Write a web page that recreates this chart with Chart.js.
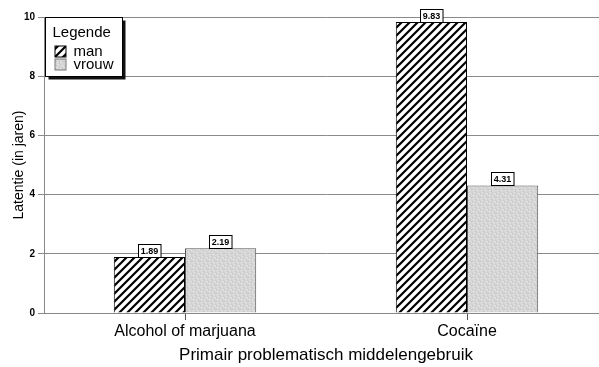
<!DOCTYPE html>
<html>
<head>
<meta charset="utf-8">
<script src="https://cdn.jsdelivr.net/npm/chart.js@4.4.1/dist/chart.umd.min.js"></script>
<style>
  body { margin: 0; background: #fff; overflow: hidden; }
  #wrap { width: 620px; height: 367px; }
</style>
</head>
<body>
<div id="wrap"><canvas id="myChart" width="620" height="367"></canvas></div>
<script>
const categories = ['Alcohol of marjuana', 'Cocaïne']
const manValues = [1.89, 9.83]
const vrouwValues = [2.19, 4.31]
const seriesNames = ['man', 'vrouw']
const yTicks = [0, 2, 4, 6, 8, 10]

const FONT = '"Liberation Sans", Arial, sans-serif'

// diagonal hatch for "man"
function hatchPattern() {
  const s = 8
  const c = document.createElement('canvas')
  c.width = s; c.height = s
  const g = c.getContext('2d')
  g.fillStyle = '#fff'
  g.fillRect(0, 0, s, s)
  g.strokeStyle = '#000'
  g.lineWidth = 2.2
  g.beginPath()
  g.moveTo(0, s); g.lineTo(s, 0)
  g.moveTo(-2, 2); g.lineTo(2, -2)
  g.moveTo(s - 2, s + 2); g.lineTo(s + 2, s - 2)
  g.stroke()
  return g.createPattern(c, 'repeat')
}

// light grey stipple for "vrouw"
function stipplePattern() {
  const dots = [
    '..x.#...',
    '#....x..',
    '...#...x',
    '.x....#.',
    '....x...',
    '#..#...#',
    '.x...x..',
    '...#....'
  ]
  const c = document.createElement('canvas')
  c.width = 8; c.height = 8
  const g = c.getContext('2d')
  g.fillStyle = '#d6d6d6'
  g.fillRect(0, 0, 8, 8)
  dots.forEach(function (row, y) {
    row.split('').forEach(function (ch, x) {
      if (ch === '#') { g.fillStyle = '#c4c4c4'; g.fillRect(x, y, 1, 1) }
      if (ch === 'x') { g.fillStyle = '#e6e6e6'; g.fillRect(x, y, 1, 1) }
    })
  })
  return g.createPattern(c, 'repeat')
}

const manFill = hatchPattern()
const vrouwFill = stipplePattern()

// small boxed value above every bar
const valueBoxes = {
  id: 'valueBoxes',
  afterDatasetsDraw(chart) {
    const ctx = chart.ctx
    ctx.save()
    ctx.font = 'bold 9px ' + FONT
    ctx.textAlign = 'center'
    ctx.textBaseline = 'middle'
    chart.data.datasets.forEach(function (ds, i) {
      chart.getDatasetMeta(i).data.forEach(function (bar, j) {
        const txt = ds.data[j].toFixed(2)
        const w = ctx.measureText(txt).width + 5
        const h = 13
        const x = Math.round(bar.x - w / 2) + 0.5
        const y = Math.round(bar.y - h) + 0.5
        ctx.fillStyle = '#fff'
        ctx.fillRect(x, y, w, h)
        ctx.strokeStyle = '#000'
        ctx.lineWidth = 1
        ctx.strokeRect(x, y, w, h)
        ctx.fillStyle = '#000'
        ctx.fillText(txt, bar.x, y + h / 2 + 0.5)
      })
    })
    ctx.restore()
  }
}

// boxed legend with drop shadow in the top-left corner of the plot
const legendBox = {
  id: 'legendBox',
  afterDraw(chart) {
    const ctx = chart.ctx
    const a = chart.chartArea
    const x = a.left + 1.5, y = a.top + 0.5, w = 77, h = 59
    ctx.save()
    ctx.fillStyle = '#111'
    ctx.fillRect(x + 3, y + 3, w, h)
    ctx.fillStyle = '#fff'
    ctx.fillRect(x, y, w, h)
    ctx.strokeStyle = '#000'
    ctx.lineWidth = 1
    ctx.strokeRect(x, y, w, h)
    ctx.fillStyle = '#000'
    ctx.textBaseline = 'middle'
    ctx.font = '15px ' + FONT
    ctx.fillText('Legende', x + 7, y + 15)
    const fills = [manFill, vrouwFill]
    const borders = ['#000', '#777']
    seriesNames.forEach(function (name, i) {
      const ry = y + 34 + i * 13
      ctx.fillStyle = fills[i]
      ctx.fillRect(x + 9.5, ry - 5.5, 11, 11)
      ctx.strokeStyle = borders[i]
      ctx.strokeRect(x + 9.5, ry - 5.5, 11, 11)
      ctx.fillStyle = '#000'
      ctx.font = '15px ' + FONT
      ctx.fillText(name, x + 28, ry)
    })
    ctx.restore()
  }
}

const data = {
  labels: categories,
  datasets: [{
    label: seriesNames[0],
    data: manValues,
    backgroundColor: manFill,
    borderColor: '#000',
    borderWidth: 1
  }, {
    label: seriesNames[1],
    data: vrouwValues,
    backgroundColor: vrouwFill,
    borderColor: '#555',
    borderWidth: 1
  }]
}

const config = {
  type: 'bar',
  data: data,
  options: {
    responsive: false,
    animation: false,
    layout: { padding: { left: 0, top: 17, right: 12, bottom: 0 } },
    datasets: {
      bar: { barPercentage: 1, categoryPercentage: 0.505 }
    },
    plugins: {
      legend: { display: false },
      tooltip: { enabled: false }
    },
    scales: {
      x: {
        afterFit(scale) { scale.height = 54 },
        grid: {
          offset: false,
          drawOnChartArea: false,
          tickLength: 7,
          color: '#555'
        },
        border: { color: '#888' },
        ticks: {
          color: '#000',
          padding: 2,
          font: { family: FONT, size: 16 }
        },
        title: {
          display: true,
          text: 'Primair problematisch middelengebruik',
          color: '#000',
          padding: { top: 0, bottom: 1 },
          font: { family: FONT, size: 17 }
        }
      },
      y: {
        min: 0,
        max: 10,
        afterFit(scale) { scale.width = 44 },
        afterBuildTicks(scale) {
          scale.ticks = yTicks.map(function (v) { return { value: v } })
        },
        grid: { color: '#8a8a8a', tickLength: 6 },
        border: { color: '#888' },
        ticks: {
          color: '#000',
          padding: 3,
          font: { family: FONT, size: 10, weight: 'bold' }
        },
        title: {
          display: true,
          text: 'Latentie (in jaren)',
          color: '#000',
          padding: { top: 11, bottom: 0 },
          font: { family: FONT, size: 14 }
        }
      }
    }
  },
  plugins: [valueBoxes, legendBox]
}

const ctx = document.getElementById('myChart')
const myChart = new Chart(ctx, config)
</script>
</body>
</html>
